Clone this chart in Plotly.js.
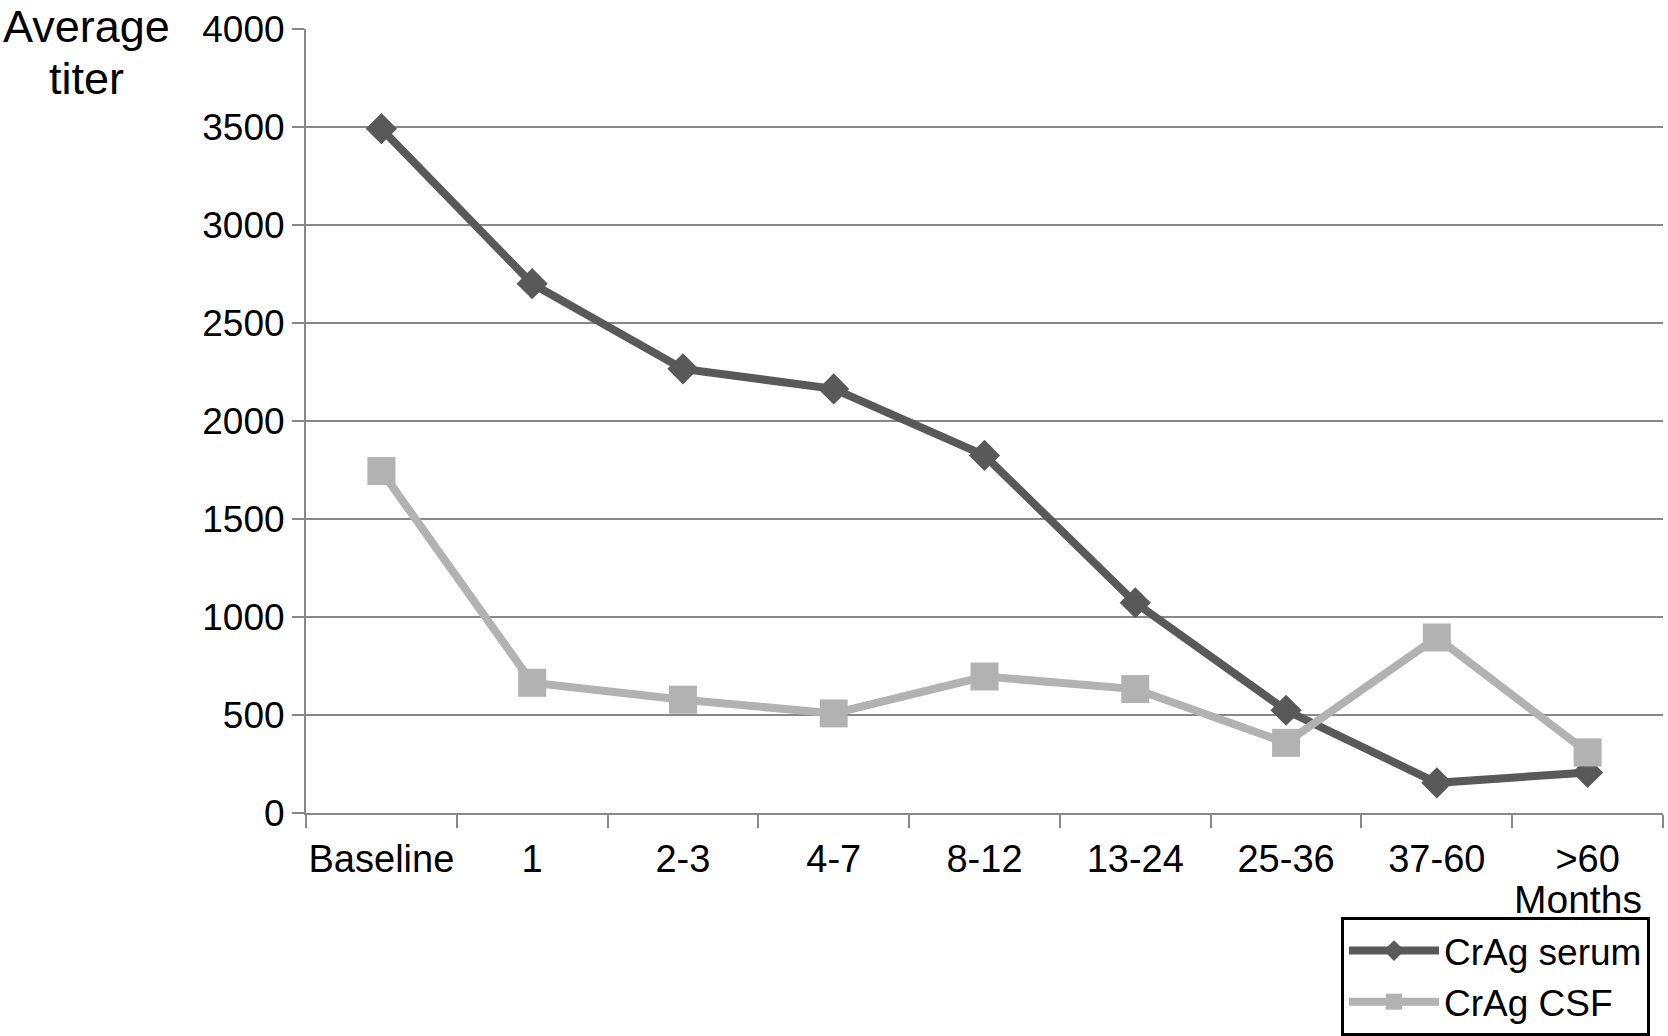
<!DOCTYPE html>
<html>
<head>
<meta charset="utf-8">
<script src="https://cdn.plot.ly/plotly-3.0.1.min.js"></script>
<style>html,body{margin:0;padding:0;background:#fff;}#chart{width:1668px;height:1036px;}</style>
</head>
<body>
<div id="chart"></div>
<script>
const categories = ["Baseline", "1", "2-3", "4-7", "8-12", "13-24", "25-36", "37-60", ">60"];
const serumValues = [3490, 2700, 2266, 2164, 1825, 1074, 526, 156, 209];
const csfValues = [1745, 666, 580, 510, 698, 634, 360, 897, 311];
const yTickValues = [0, 500, 1000, 1500, 2000, 2500, 3000, 3500, 4000];
const yTickLabels = ["0", "500", "1000", "1500", "2000", "2500", "3000", "3500", "4000"];

const FONT = "Liberation Sans, Arial, sans-serif";
const W = 1668, H = 1036;
// plot box in pixels
const PL = 306, PR = 1663, PT = 29, PB = 823;
const fx = v => v / W;
const fy = v => 1 - v / H;

const traces = [
  {
    x: categories, y: serumValues, name: "CrAg serum", type: "scatter", mode: "lines+markers",
    line: {color: "#595959", width: 8},
    marker: {symbol: "diamond", size: 24, color: "#595959"}
  },
  {
    x: categories, y: csfValues, name: "CrAg CSF", type: "scatter", mode: "lines+markers",
    line: {color: "#b2b2b2", width: 8},
    marker: {symbol: "square", size: 28, color: "#b2b2b2"}
  }
];

const layout = {
  width: W, height: H,
  margin: {l: 0, r: 0, t: 0, b: 0, pad: 0},
  paper_bgcolor: "#fff", plot_bgcolor: "#fff",
  font: {family: FONT, size: 38, color: "#000"},
  showlegend: true,
  xaxis: {
    domain: [fx(PL), fx(PR)],
    type: "category", categoryorder: "array", categoryarray: categories,
    range: [-0.5, 8.5], tickson: "boundaries", tickangle: 0, automargin: false,
    ticks: "outside", ticklen: 13, tickwidth: 2, tickcolor: "#888",
    showline: true, linecolor: "#888", linewidth: 2,
    showgrid: false, zeroline: false,
    tickfont: {family: FONT, size: 38, color: "#000"},
    ticklabelstandoff: 11
  },
  yaxis: {
    domain: [fy(PB), fy(PT)],
    range: [0, 4000], tickmode: "array", tickvals: yTickValues, ticktext: yTickLabels,
    automargin: false,
    ticks: "outside", ticklen: 12, tickwidth: 2, tickcolor: "#888",
    showline: true, linecolor: "#888", linewidth: 2,
    showgrid: true, gridcolor: "#888", gridwidth: 2, zeroline: false,
    tickfont: {family: FONT, size: 37, color: "#000"},
    ticklabelstandoff: 0
  },
  legend: {
    x: fx(1341), xanchor: "left", y: fy(928), yanchor: "top",
    bordercolor: "#000", borderwidth: 3, bgcolor: "#fff",
    font: {family: FONT, size: 37, color: "#000"},
    itemwidth: 90, tracegroupgap: 0,
    entrywidth: 215, entrywidthmode: "pixels"
  },
  annotations: [
    {text: "Average", xref: "paper", yref: "paper", x: fx(86), y: fy(27),
     xanchor: "center", yanchor: "middle", showarrow: false,
     font: {family: FONT, size: 45, color: "#000"}},
    {text: "titer", xref: "paper", yref: "paper", x: fx(86), y: fy(79),
     xanchor: "center", yanchor: "middle", showarrow: false,
     font: {family: FONT, size: 45, color: "#000"}},
    {text: "Months", xref: "paper", yref: "paper", x: fx(1578), y: fy(910),
     xanchor: "center", yanchor: "middle", showarrow: false,
     font: {family: FONT, size: 39, color: "#000"}}
  ]
};

Plotly.newPlot("chart", traces, layout, {displayModeBar: false, staticPlot: true});
</script>
</body>
</html>
